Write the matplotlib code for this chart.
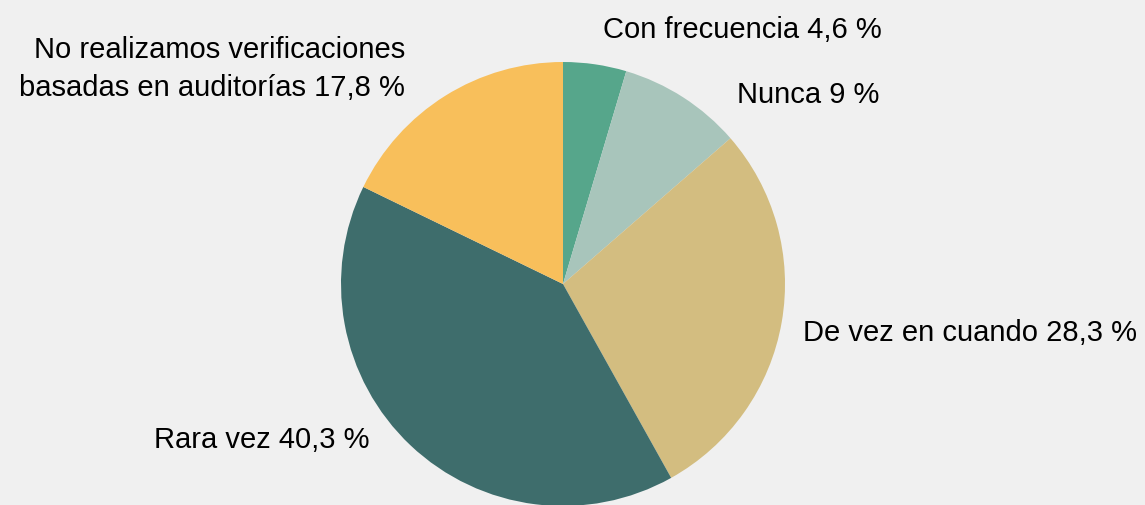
import matplotlib.pyplot as plt

plt.rcParams['font.family'] = ['Liberation Sans', 'DejaVu Sans']

categorias = ['Con frecuencia', 'Nunca', 'De vez en cuando', 'Rara vez',
              'No realizamos verificaciones\nbasadas en auditorías']
valores = [4.6, 9, 28.3, 40.3, 17.8]
etiquetas_pct = ['4,6 %', '9 %', '28,3 %', '40,3 %', '17,8 %']
colores = ['#56a68b', '#a8c5bb', '#d3bd80', '#3e6d6c', '#f8bf5b']

W, H = 1145, 505
fig = plt.figure(figsize=(W / 100, H / 100), dpi=100)
fig.patch.set_facecolor('#f0f0f0')
ax = fig.add_axes([0, 0, 1, 1])
ax.set_facecolor('#f0f0f0')

# pie centre / radius in pixels
cx, cy, r = 563, 284, 222
ax.pie(valores, colors=colores, startangle=90, counterclock=False,
       wedgeprops=dict(linewidth=0))
ax.set_aspect('equal')
ax.set_xlim(-cx / r, (W - cx) / r)
ax.set_ylim(-(H - cy) / r, cy / r)
ax.axis('off')

# label anchors (px, from top-left) and alignment
pos = [(603, 30, 'left'), (737, 95, 'left'), (803, 333, 'left'),
       (370, 440, 'right'), (405, 69, 'right')]
for cat, pct, (px, py, ha) in zip(categorias, etiquetas_pct, pos):
    fig.text(px / W, 1 - py / H, f'{cat} {pct}', ha=ha, va='center',
             fontsize=21, color='#000000', linespacing=1.5, multialignment='right')

fig.savefig('out.png', dpi=100, facecolor=fig.get_facecolor())
